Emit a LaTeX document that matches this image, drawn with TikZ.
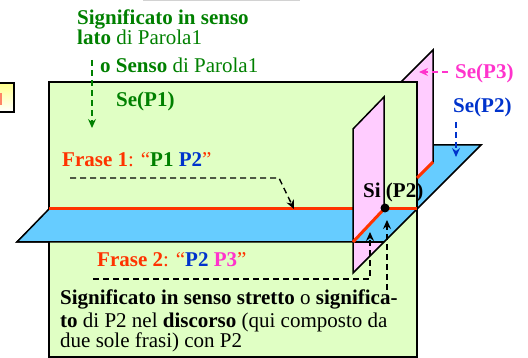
\documentclass[tikz,border=0pt]{standalone}
\usepackage{fontspec}
\setmainfont{Liberation Serif}
\usetikzlibrary{arrows.meta}
\definecolor{planegreen}{RGB}{224,255,196}
\definecolor{planeblue}{RGB}{102,204,255}
\definecolor{planepink}{RGB}{255,204,255}
\definecolor{cred}{RGB}{255,51,0}
\definecolor{cgreen}{RGB}{0,128,0}
\definecolor{cblue}{RGB}{0,51,204}
\definecolor{cmag}{RGB}{255,51,204}
\begin{document}
\begin{tikzpicture}[x=1pt,y=-1pt,
  plane/.style={draw=black,line width=1.5pt,line join=miter},
  txt/.style={inner sep=0pt,anchor=base west,font=\fontsize{21}{24}\selectfont},
  dasharrow/.style={line width=1.4pt,dash pattern=on 6pt off 4pt,-{Stealth[length=9pt,width=8pt,inset=3pt]}},
  redline/.style={draw=cred,line width=3pt}]
\useasboundingbox (0,0) rectangle (528,358);
% faint top line
\draw[gray!35,line width=1pt] (143,0.5) -- (300,0.5);
% small box at left
\path[top color={rgb,255:red,255;green,255;blue,140},bottom color=white,draw=black,line width=1.5pt] (-5,83) rectangle (14,112);
\draw[cred!60,line width=2pt] (1,93) -- (1,105);
% horizontal plane Se(P2), back part
\draw[plane,fill=planeblue] (17,242) -- (384,242) -- (481,145) -- (113,145) -- cycle;
% vertical plane Se(P3)
\draw[plane,fill=planepink] (433,50) -- (433,162) -- (401,194) -- (401,82) -- cycle;
% vertical plane Se(P1)
\draw[plane,fill=planegreen] (49,82) rectangle (417,357);
% front strip of blue plane
\fill[planeblue] (49,209) -- (17,242) -- (384,242) -- (417,209) -- cycle;
\draw[plane] (49,209) -- (17,242) -- (384,242) -- (417,209);
% intersections
\draw[redline] (49,209) -- (417,209);
\draw[redline] (433,162) -- (417,178);
% plane Si(P2)
\fill[planepink] (384,209) -- (384,97) -- (353,129) -- (353,242) -- cycle;
\fill[planepink] (353,242) -- (384,242) -- (353,273) -- cycle;
\draw[plane] (384,209) -- (384,97) -- (353,129) -- (353,273) -- (384,242);
\draw[plane] (353,242) -- (384,242);
\draw[redline] (353,242) -- (384,209);
\fill (385,208) circle (4.5);
% texts
\node[txt,text=cgreen] (sl1) at (77,25) {\bfseries Significato in senso};
\node[txt,text=cgreen] (sl2) at (77,45) {{\bfseries lato} di Parola1};
\node[txt,text=cgreen] (sl3) at (100,73) {{\bfseries o Senso} di Parola1};
\node[txt,text=cgreen] (sep1) at (116,107) {\bfseries Se(P1)};
\node[txt] (fr1) at (62,167) {\textcolor{cred}{\bfseries Frase 1}\textcolor{cred}{: “}\textcolor{cgreen}{\bfseries P1} \textcolor{cblue}{\bfseries P2}\textcolor{cred}{”}};
\node[txt] (sip2) at (363,198) {\bfseries Si (P2)};
\node[txt,text=cmag] (sep3) at (455,79) {\bfseries Se(P3)};
\node[txt,text=cblue] (sep2) at (453,113) {\bfseries Se(P2)};
\node[txt] (fr2) at (97,267) {\textcolor{cred}{\bfseries Frase 2}\textcolor{cred}{: “}\textcolor{cblue}{\bfseries P2} \textcolor{cmag}{\bfseries P3}\textcolor{cred}{”}};
\node[txt] (sig1) at (60,305) {{\bfseries Significato in senso stretto} o {\bfseries significa-}};
\node[txt] (sig2) at (60,327) {{\bfseries to} di P2 nel {\bfseries discorso} (qui composto da};
\node[txt] (sig3) at (60,348) {due sole frasi) con P2};
% connectors
\coordinate (g1) at (92,60); \coordinate (g2) at (92,128);
\draw[dasharrow,cgreen] (g1) -- (g2);
\coordinate (k1) at (70,178); \coordinate (k2) at (279,178); \coordinate (k3) at (294,209);
\draw[dasharrow] (k1) -- (k2) -- (k3);
\coordinate (m1) at (448,72); \coordinate (m2) at (419,72);
\draw[dasharrow,cmag] (m1) -- (m2);
\coordinate (b1) at (456,122); \coordinate (b2) at (456,157);
\draw[dasharrow,cblue] (b1) -- (b2);
\coordinate (d1) at (93,279); \coordinate (d2) at (370,279); \coordinate (d3) at (370,232);
\draw[dasharrow] (d1) -- (d2) -- (d3);
\coordinate (e1) at (387,290); \coordinate (e2) at (387,220);
\draw[dasharrow] (e1) -- (e2);
\end{tikzpicture}
\end{document}
